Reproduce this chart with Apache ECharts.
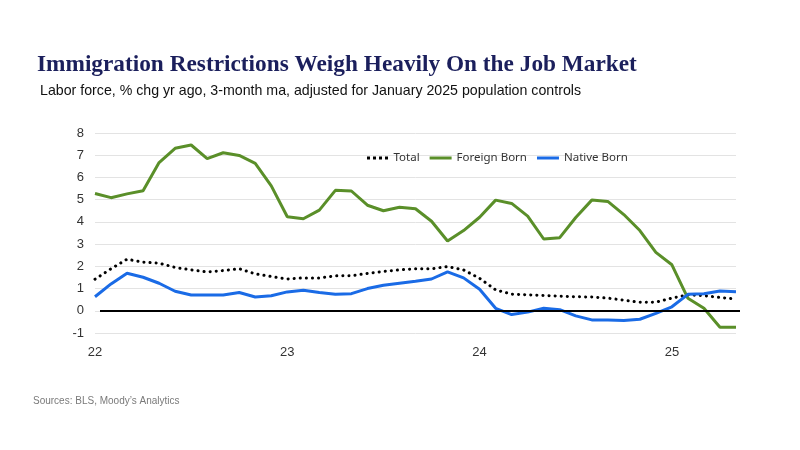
<!DOCTYPE html>
<html lang="en">
<head>
    <meta charset="UTF-8">
    <title>Immigration Restrictions Weigh Heavily On the Job Market</title>
    <script type="text/javascript" src="https://cdn.jsdelivr.net/npm/echarts@6/dist/echarts.min.js"></script>
    <style>
        html, body { margin: 0; padding: 0; background: #fff; }
    </style>
</head>
<body>
    <div id="chart" style="width:800px;height:450px;"></div>
</body>
<script type="text/javascript">
    // monthly, Jan 2022 - May 2025
    var months = [];
    var yearLabels = ['22', '23', '24', '25'];
    for (var y = 0; y < 4; y++) {
        for (var m = 1; m <= 12; m++) {
            if (y === 3 && m > 5) break;
            months.push(yearLabels[y] + '-' + m);
        }
    }

    var total = [1.42, 1.89, 2.32, 2.19, 2.14, 1.95, 1.84, 1.75, 1.81, 1.89, 1.66, 1.54,
                 1.43, 1.48, 1.48, 1.57, 1.58, 1.68, 1.77, 1.84, 1.89, 1.89, 1.99, 1.84,
                 1.46, 0.94, 0.75, 0.72, 0.69, 0.66, 0.63, 0.62, 0.57, 0.48, 0.38, 0.39,
                 0.57, 0.72, 0.68, 0.60, 0.53];
    var foreignBorn = [5.28, 5.09, 5.26, 5.40, 6.67, 7.31, 7.46, 6.85, 7.11, 6.99, 6.63, 5.62,
                       4.23, 4.14, 4.53, 5.42, 5.39, 4.75, 4.50, 4.66, 4.59, 4.03, 3.14, 3.61,
                       4.21, 4.98, 4.83, 4.26, 3.23, 3.29, 4.20, 4.98, 4.92, 4.33, 3.61, 2.63,
                       2.07, 0.56, 0.11, -0.74, -0.74];
    var nativeBorn = [0.63, 1.21, 1.69, 1.51, 1.24, 0.88, 0.71, 0.71, 0.71, 0.82, 0.62, 0.68,
                      0.85, 0.92, 0.82, 0.74, 0.77, 1.00, 1.15, 1.24, 1.33, 1.43, 1.75, 1.48,
                      0.97, 0.11, -0.17, -0.06, 0.11, 0.05, -0.23, -0.41, -0.42, -0.44, -0.38, -0.12,
                      0.18, 0.74, 0.77, 0.89, 0.86];

    var myChart = echarts.init(document.getElementById('chart'));

    // legend icons: short line, and four dots for the dotted series
    var lineIcon = 'path://M0,0h22v3h-22z';
    var dotIcon = 'path://M0,0h3v3h-3zM6,0h3v3h-3zM12,0h3v3h-3zM18,0h3v3h-3z';

    var options = {
        backgroundColor: '#ffffff',
        animation: false,
        title: [{
            text: 'Immigration Restrictions Weigh Heavily On the Job Market',
            left: 32,
            top: 48,
            textStyle: {
                fontFamily: 'Liberation Serif',
                fontWeight: 'bold',
                fontSize: 23.3,
                color: '#1b1f5c'
            }
        }, {
            text: 'Labor force, % chg yr ago, 3-month ma, adjusted for January 2025 population controls',
            left: 35,
            top: 79,
            textStyle: {
                fontFamily: 'Liberation Sans',
                fontWeight: 'normal',
                fontSize: 14.2,
                color: '#111'
            }
        }, {
            text: 'Sources: BLS, Moody\u2019s Analytics',
            left: 28,
            top: 391,
            textStyle: {
                fontFamily: 'Liberation Sans',
                fontWeight: 'normal',
                fontSize: 10,
                color: '#7a7a7a'
            }
        }],
        legend: {
            top: 147,
            left: 362,
            itemWidth: 22,
            itemHeight: 3,
            itemGap: 10,
            textStyle: {
                fontFamily: 'Noto Sans',
                fontSize: 11.5,
                color: '#333'
            },
            data: [
                { name: 'Total', icon: dotIcon },
                { name: 'Foreign Born', icon: lineIcon },
                { name: 'Native Born', icon: lineIcon }
            ]
        },
        grid: {
            left: 95,
            right: 64,
            top: 133,
            bottom: 117
        },
        xAxis: {
            type: 'category',
            boundaryGap: false,
            data: months,
            axisLine: { show: false },
            axisTick: { show: false },
            axisLabel: {
                interval: 11,
                margin: 13,
                fontFamily: 'Liberation Sans',
                fontSize: 13,
                color: '#333',
                formatter: function (v) { return v.split('-')[0]; }
            },
            splitLine: { show: false }
        },
        yAxis: {
            type: 'value',
            min: -1,
            max: 8,
            interval: 1,
            axisLine: { show: false },
            axisTick: { show: false },
            axisLabel: {
                margin: 11,
                fontFamily: 'Liberation Sans',
                fontSize: 13,
                color: '#333'
            },
            splitLine: { lineStyle: { color: '#e3e3e3', width: 1 } }
        },
        series: [{
            name: 'Total',
            type: 'line',
            data: total,
            symbol: 'none',
            color: '#000000',
            lineStyle: { color: '#000000', width: 3, type: [0.1, 6], cap: 'round' },
            markLine: {
                silent: true,
                symbol: 'none',
                label: { show: false },
                lineStyle: { color: '#000000', width: 2, type: 'solid' },
                data: [[{ xAxis: 0, yAxis: 0, x: 100 }, { yAxis: 0, x: 740 }]]
            },
            z: 3
        }, {
            name: 'Foreign Born',
            type: 'line',
            data: foreignBorn,
            symbol: 'none',
            color: '#5a8f29',
            lineStyle: { color: '#5a8f29', width: 3 },
            z: 2
        }, {
            name: 'Native Born',
            type: 'line',
            data: nativeBorn,
            symbol: 'none',
            color: '#1a6be6',
            lineStyle: { color: '#1a6be6', width: 3 },
            z: 4
        }]
    };
    myChart.setOption(options);
</script>
</html>
